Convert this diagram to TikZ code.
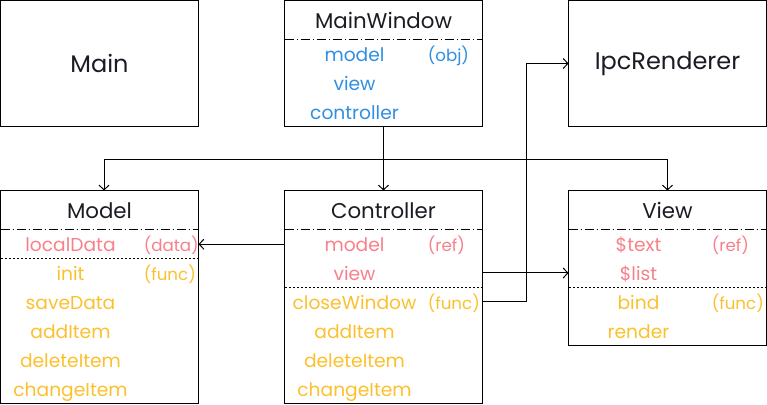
\documentclass[tikz,border=0pt]{standalone}
\usepackage{fontspec}
\setmainfont{Poppins}
\usepackage{xcolor}
\usepackage{tikz}
\usetikzlibrary{calc}
\usetikzlibrary{arrows.meta}

\definecolor{titleink}{HTML}{1B1B24}
\definecolor{fieldblue}{HTML}{2F8FE0}
\definecolor{refpink}{HTML}{F8808A}
\definecolor{funcyellow}{HTML}{FBC02D}

\tikzset{
    box/.style={draw, line width=0.8pt, rectangle, anchor=north west, inner sep=0pt, outer sep=0pt},
    bigtitle/.style={font=\fontsize{18}{22}\selectfont, text=titleink},
    title/.style={anchor=base, inner sep=0pt, font=\fontsize{16}{19}\selectfont, text=titleink},
    field/.style={anchor=base, inner sep=0pt, font=\fontsize{14}{17}\selectfont},
    tag/.style={anchor=base west, inner sep=0pt, font=\fontsize{12.5}{15}\selectfont},
    sepdash/.style={line width=0.75pt, dash pattern=on 7pt off 2pt on 1pt off 2pt},
    sepdot/.style={line width=0.75pt, dash pattern=on 1.5pt off 1.5pt},
    link/.style={line width=0.75pt, -{Straight Barb[length=3.5pt,width=7.5pt]}}
}

\begin{document}
\begin{tikzpicture}[x=0.75pt, y=-0.75pt]
        \useasboundingbox (0,0) rectangle (767,404);

        %BOXES
        \node[box, bigtitle, minimum width=148.5pt, minimum height=94.5pt] (main) at (0.5,0.5) {Main};
        \node[box, minimum width=148.5pt, minimum height=94.5pt] (mainwin) at (284.5,0.5) {};
        \node[box, bigtitle, minimum width=148.5pt, minimum height=94.5pt] (ipc) at (568.5,0.5) {IpcRenderer};
        \node[box, minimum width=148.5pt, minimum height=159.4pt] (model) at (0.5,190.5) {};
        \node[box, minimum width=148.5pt, minimum height=159.4pt] (ctrl) at (284.5,190.5) {};
        \node[box, minimum width=148.5pt, minimum height=115.9pt] (view) at (568.5,190.5) {};

        %MAINWINDOW
        \node[title] (mwtitle) at (383.5,28.5) {MainWindow};
        \draw[sepdash] (mainwin.west |- 0,39) -- (mainwin.east |- 0,39);
        \node[field, text=fieldblue] (mw1) at (354.5,61.5) {model};
        \node[field, text=fieldblue] (mw2) at (354.5,90.5) {view};
        \node[field, text=fieldblue] (mw3) at (354.5,119) {controller};
        \node[tag, text=fieldblue] (mwt) at (427.5,61.5) {(obj)};

        %MODEL
        \node[title] (mdtitle) at (99.5,218) {Model};
        \draw[sepdash] (model.west |- 0,229) -- (model.east |- 0,229);
        \draw[sepdot] (model.west |- 0,258) -- (model.east |- 0,258);
        \node[field, text=refpink] (md1) at (70.5,251) {localData};
        \node[tag, text=refpink] (mdt1) at (143.5,251) {(data)};
        \foreach \fn [count=\i] in {init,saveData,addItem,deleteItem,changeItem}
            \node[field, text=funcyellow] (mf\i) at (70.5,251+29*\i) {\fn};
        \node[tag, text=funcyellow] (mdt2) at (143.5,280) {(func)};

        %CONTROLLER
        \node[title] (cttitle) at (383.5,218) {Controller};
        \draw[sepdash] (ctrl.west |- 0,229) -- (ctrl.east |- 0,229);
        \draw[sepdot] (ctrl.west |- 0,287) -- (ctrl.east |- 0,287);
        \node[field, text=refpink] (cf1) at (354.5,251) {model};
        \node[field, text=refpink] (cf2) at (354.5,280) {view};
        \node[tag, text=refpink] (ctt1) at (427.5,251) {(ref)};
        \foreach \fn [count=\i from 3] in {closeWindow,addItem,deleteItem,changeItem}
            \node[field, text=funcyellow] (cf\i) at (354.5,222+29*\i) {\fn};
        \node[tag, text=funcyellow] (ctt2) at (427.5,309) {(func)};

        %VIEW
        \node[title] (vwtitle) at (667.5,218) {View};
        \draw[sepdash] (view.west |- 0,229) -- (view.east |- 0,229);
        \draw[sepdot] (view.west |- 0,287) -- (view.east |- 0,287);
        \node[field, text=refpink] (vf1) at (638.5,251) {\$text};
        \node[field, text=refpink] (vf2) at (638.5,280) {\$list};
        \node[tag, text=refpink] (vwt1) at (711.5,251) {(ref)};
        \node[field, text=funcyellow] (vf3) at (638.5,309) {bind};
        \node[field, text=funcyellow] (vf4) at (638.5,338) {render};
        \node[tag, text=funcyellow] (vwt2) at (711.5,309) {(func)};

        %ARROWS
        \coordinate (bus) at (383.5,159);
        \coordinate (turn) at (526,0);
        \draw[link] (mainwin.south) -- (ctrl.north);
        \draw[link] (bus) -| ([xshift=3.4pt]model.north);
        \draw[link] (bus) -| (view.north);
        \draw[link] (ctrl.west |- cf1) -- (model.east |- cf1);
        \draw[link] (ctrl.east |- cf2) -- (view.west |- cf2);
        \draw[link] (ctrl.east |- cf3) -- (turn |- cf3) |- (ipc.west);
    \end{tikzpicture}
\end{document}
